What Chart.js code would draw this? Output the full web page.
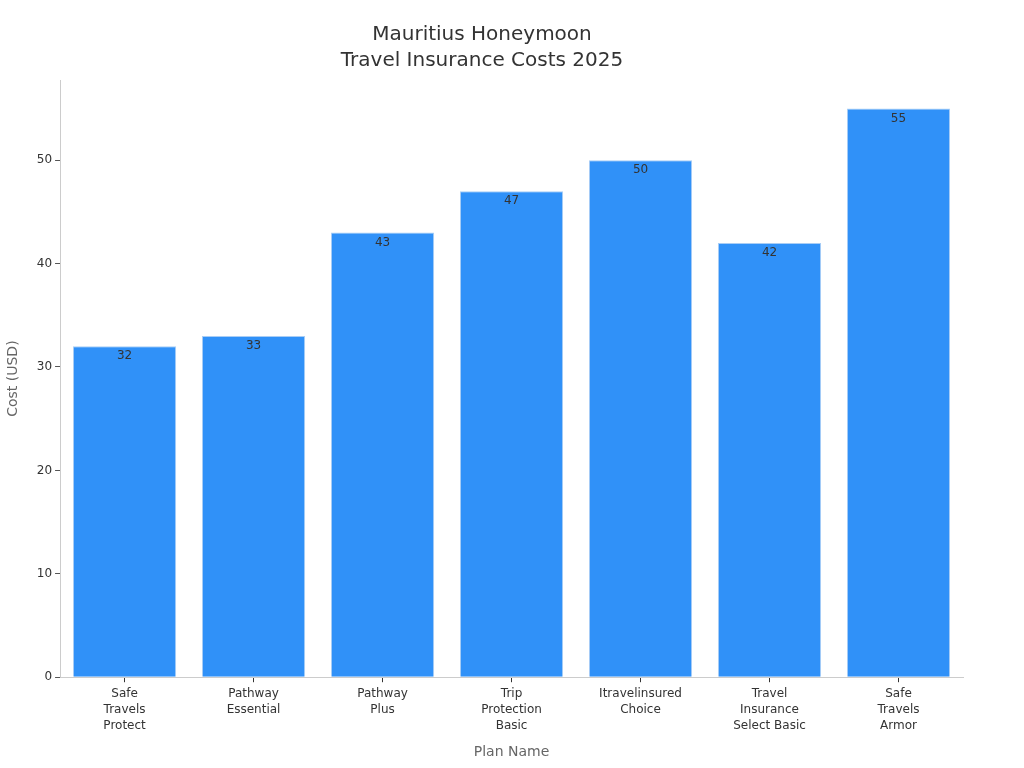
<!DOCTYPE html>
<html>
<head>
<meta charset="utf-8">
<script src="https://cdn.jsdelivr.net/npm/chart.js@4"></script>
<style>
  html, body { margin: 0; padding: 0; background: #fff; }
  #wrap { width: 1024px; height: 768px; }
</style>
</head>
<body>
<div id="wrap"><canvas id="myChart" width="1024" height="768"></canvas></div>
<script>
var plans = [
  ["Safe", "Travels", "Protect"],
  ["Pathway", "Essential"],
  ["Pathway", "Plus"],
  ["Trip", "Protection", "Basic"],
  ["Itravelinsured", "Choice"],
  ["Travel", "Insurance", "Select Basic"],
  ["Safe", "Travels", "Armor"]
];
var costs = [32, 33, 43, 47, 50, 42, 55];
var yTicks = [0, 10, 20, 30, 40, 50];

Chart.defaults.font.family = "'DejaVu Sans', sans-serif";

// value labels just inside the top of each bar
const barLabels = {
  id: "barLabels",
  afterDatasetsDraw(chart) {
    const ctx = chart.ctx;
    const meta = chart.getDatasetMeta(0);
    ctx.save();
    ctx.font = "12px 'DejaVu Sans', sans-serif";
    ctx.fillStyle = "#333";
    ctx.textAlign = "center";
    ctx.textBaseline = "top";
    meta.data.forEach((bar, i) => {
      ctx.fillText(costs[i], bar.x, bar.y + 4);
    });
    ctx.restore();
  }
};

new Chart(document.getElementById("myChart"), {
  type: "bar",
  data: {
    labels: plans,
    datasets: [{
      label: "Cost (USD)",
      data: costs,
      backgroundColor: "#3091f8",
      borderColor: "#a9cdf5",
      borderWidth: 1,
      categoryPercentage: 0.8,
      barPercentage: 1.0
    }]
  },
  options: {
    responsive: false,
    animation: false,
    layout: { padding: { top: 10, right: 61, bottom: 3, left: 1 } },
    plugins: {
      legend: { display: false },
      tooltip: { enabled: false },
      title: {
        display: true,
        text: ["Mauritius Honeymoon", "Travel Insurance Costs 2025"],
        color: "#333",
        font: { size: 20, weight: "normal", lineHeight: 1.3 },
        padding: { top: 12, bottom: 6 }
      }
    },
    scales: {
      x: {
        grid: { drawOnChartArea: false, offset: false, tickColor: "#333", tickLength: 5 },
        border: { color: "#ccc" },
        ticks: { color: "#333", font: { size: 12, lineHeight: 1.333 }, maxRotation: 0, padding: 4 },
        title: { display: true, text: "Plan Name", color: "#666", font: { size: 14 }, padding: { top: 6 } }
      },
      y: {
        min: 0,
        max: 57.75,
        afterBuildTicks(axis) {
          axis.ticks = yTicks.map(v => ({ value: v }));
        },
        grid: { drawOnChartArea: false, tickColor: "#555", tickLength: 5 },
        border: { color: "#ccc" },
        ticks: { color: "#333", font: { size: 12 }, padding: 3 },
        title: { display: true, text: "Cost (USD)", color: "#666", font: { size: 14 }, padding: { top: 4, bottom: 12 } }
      }
    }
  },
  plugins: [barLabels]
});
</script>
</body>
</html>
